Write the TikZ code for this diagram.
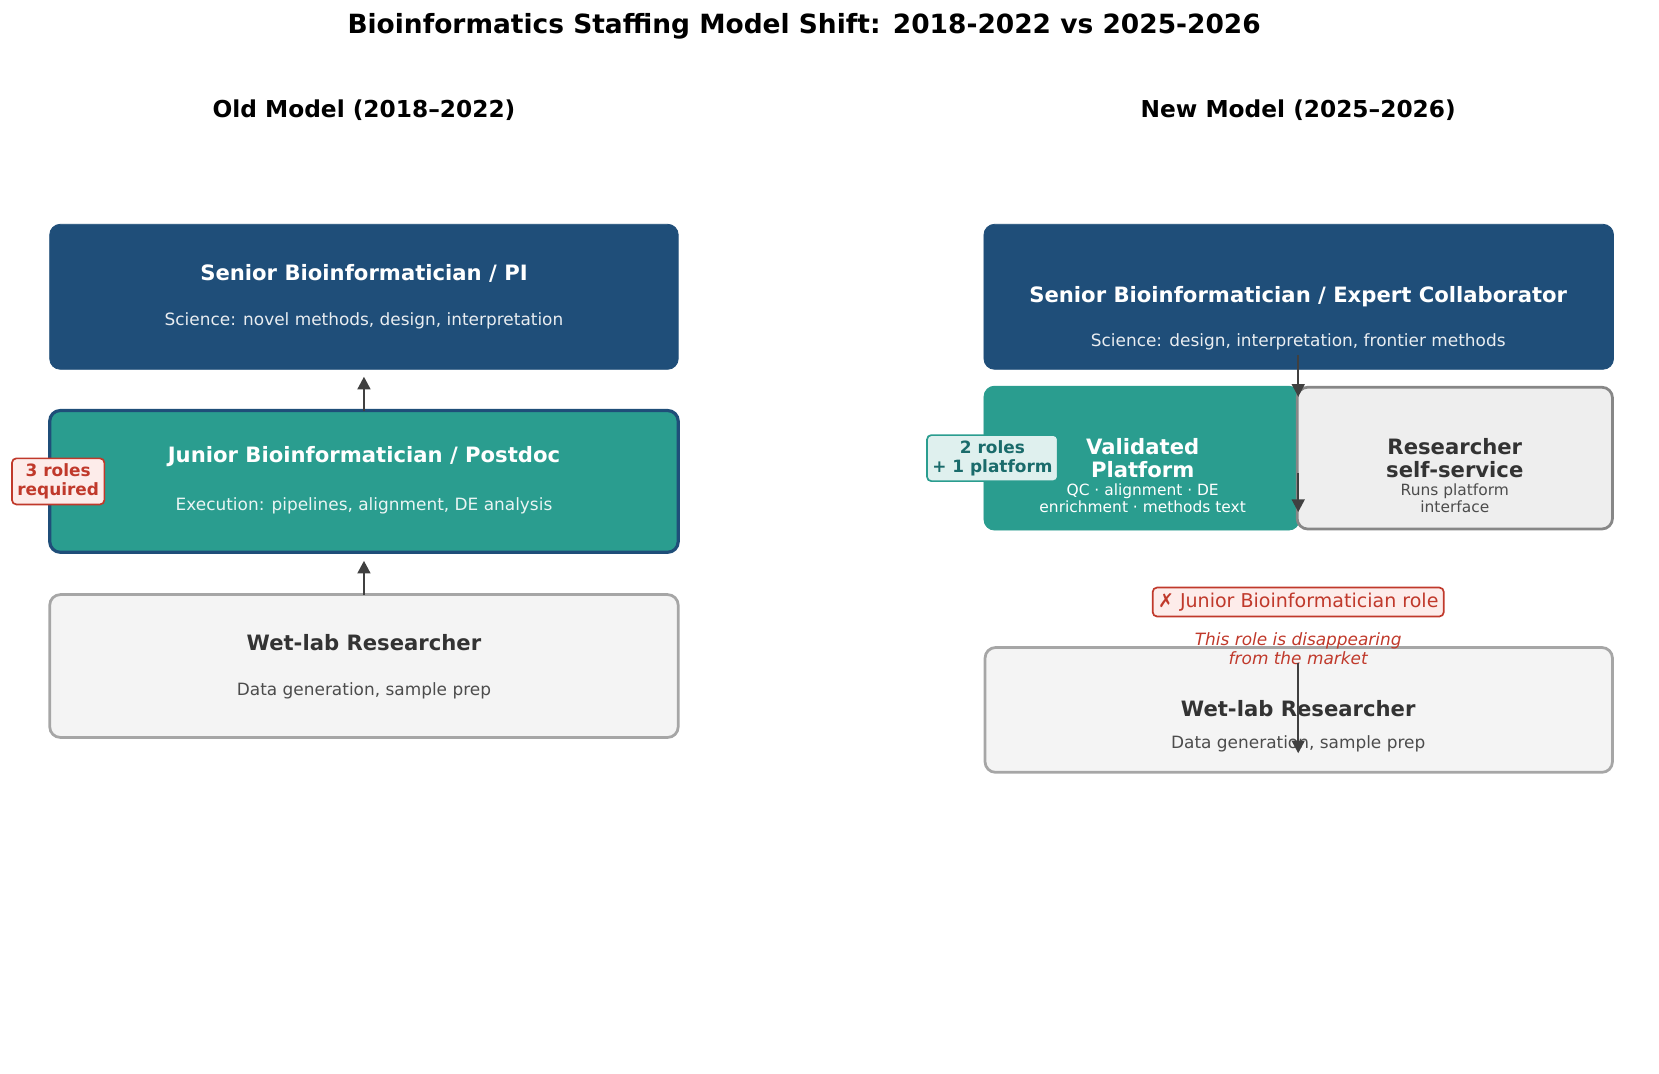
\documentclass[tikz,border=0pt]{standalone}
\usepackage{fontspec}
\setmainfont{DejaVu Sans}
\usetikzlibrary{arrows.meta}
\definecolor{navy}{HTML}{1F4E79}
\definecolor{teal}{HTML}{2A9D8F}
\definecolor{lgray}{HTML}{F4F4F4}
\definecolor{mgray}{HTML}{EEEEEE}
\definecolor{rd}{HTML}{C0392B}
\definecolor{pinkbg}{HTML}{FDECEA}
\definecolor{dteal}{HTML}{1A6B6B}
\definecolor{dk}{HTML}{333333}
\begin{document}
\begin{tikzpicture}[x=0.5pt,y=-0.5pt,
 box/.style={rounded corners=5pt},
 ttl/.style={font=\bfseries\fontsize{10}{12}\selectfont,align=center},
 sub/.style={font=\fontsize{8}{9.5}\selectfont,align=center},
 arr/.style={-{Triangle[length=6pt,width=6pt]},line width=1.2pt,draw=black!75},
 tag/.style={rounded corners=2pt,line width=0.8pt,inner sep=2.5pt,align=center}]
\useasboundingbox (0,0) rectangle (1568,1015);
\node[font=\bfseries\fontsize{12.5}{14}\selectfont] (title) at (760,25) {Bioinformatics Staffing Model Shift: 2018-2022 vs 2025-2026};
\node[font=\bfseries\fontsize{11}{13}\selectfont] (oh) at (344,104) {Old Model (2018–2022)};
\node[font=\bfseries\fontsize{11}{13}\selectfont] (nh) at (1227,104) {New Model (2025–2026)};
% old
\draw[box,fill=navy,draw=navy] (47,212) rectangle (641,349);
\node (os) at (344,280) {};
\node[ttl,text=white] (ost) at (344,258) {Senior Bioinformatician / PI};
\node[sub,text=white!90!navy] (oss) at (344,303) {Science: novel methods, design, interpretation};
\draw[box,fill=teal,draw=navy,line width=1.5pt] (47,388) rectangle (641,522);
\node[ttl,text=white] (ojt) at (344,432) {Junior Bioinformatician / Postdoc};
\node[sub,text=white!90!teal] (ojs) at (344,478) {Execution: pipelines, alignment, DE analysis};
\draw[box,fill=lgray,draw=black!35,line width=1.3pt] (47,562) rectangle (641,697);
\node[ttl,text=dk] (owt) at (344,607) {Wet-lab Researcher};
\node[sub,text=black!70] (ows) at (344,653) {Data generation, sample prep};
\coordinate (a1) at (344,388); \coordinate (a2) at (344,356);
\coordinate (b1) at (344,562); \coordinate (b2) at (344,530);
\draw[arr] (a1) -- (a2);
\draw[arr] (b1) -- (b2);
\node[tag,fill=pinkbg,draw=rd,text=rd,font=\bfseries\fontsize{8}{9}\selectfont] (r3) at (55,455) {3 roles\\required};
% new
\draw[box,fill=navy,draw=navy] (930,212) rectangle (1525,349);
\node[ttl,text=white] (nst) at (1227,280) {Senior Bioinformatician / Expert Collaborator};
\node[sub,text=white!90!navy] (nss) at (1227,323) {Science: design, interpretation, frontier methods};
\draw[box,fill=teal,draw=teal] (930,365) rectangle (1228,501);
\node[ttl,text=white,font=\bfseries\fontsize{10}{11}\selectfont] (vpt) at (1080,433) {Validated\\Platform};
\node[sub,text=white,font=\fontsize{7.3}{8.3}\selectfont] (vps) at (1080,471) {QC · alignment · DE\\enrichment · methods text};
\draw[box,fill=mgray,draw=black!47,line width=1.3pt] (1226,366) rectangle (1524,500);
\node[ttl,text=dk,font=\bfseries\fontsize{10}{11}\selectfont] (rst) at (1375,433) {Researcher\\self-service};
\node[sub,text=black!70,font=\fontsize{7.3}{8.3}\selectfont] (rss) at (1375,471) {Runs platform\\interface};
\draw[box,fill=lgray,draw=black!35,line width=1.3pt] (931,612) rectangle (1524,730);
\node[ttl,text=dk] (nwt) at (1227,670) {Wet-lab Researcher};
\node[sub,text=black!70] (nws) at (1227,703) {Data generation, sample prep};
\node[tag,fill=teal!15,draw=teal,text=dteal,font=\bfseries\fontsize{8}{9}\selectfont] (r2) at (938,433) {2 roles\\+ 1 platform};
\node[tag,fill=pinkbg,draw=rd,text=rd,font=\fontsize{9}{10}\selectfont] (xj) at (1227,569) {✗ Junior Bioinformatician role};
\node[text=rd,font=\itshape\fontsize{8}{9}\selectfont,align=center] (dis) at (1227,613) {This role is disappearing\\from the market};
\coordinate (c1) at (1227,336); \coordinate (c2) at (1227,375);
\coordinate (d1) at (1227,447); \coordinate (d2) at (1227,484);
\coordinate (e1) at (1227,627); \coordinate (e2) at (1227,712);
\draw[arr] (c1) -- (c2);
\draw[arr] (d1) -- (d2);
\draw[arr] (e1) -- (e2);
\end{tikzpicture}
\end{document}
